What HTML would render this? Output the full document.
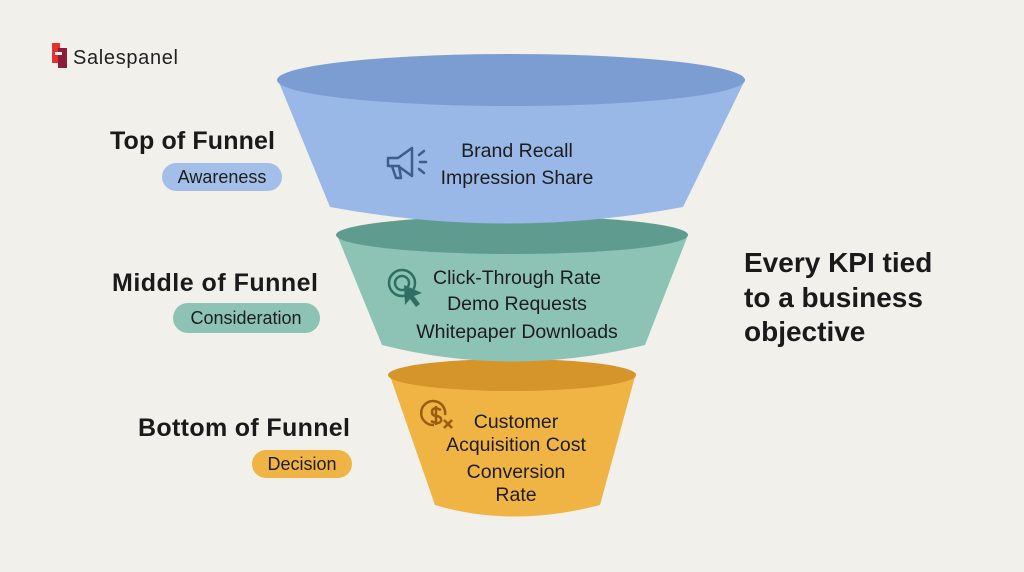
<!DOCTYPE html>
<html><head><meta charset="utf-8"><style>
html,body{margin:0;padding:0;background:#f1f0eb;}
svg{display:block}
text{font-family:"Liberation Sans",sans-serif;}
</style></head><body>
<svg width="1024" height="572" viewBox="0 0 1024 572" xmlns="http://www.w3.org/2000/svg">
<rect width="1024" height="572" fill="#f1f0eb"/>
<!-- logo -->
<rect x="52" y="43" width="8" height="20" fill="#e5322d"/>
<rect x="58" y="48" width="9" height="20" fill="#8a1f3c"/>
<rect x="55" y="52" width="7" height="3" fill="#f1f0eb"/>
<text x="73" y="64" font-size="20" fill="#222" textLength="105">Salespanel</text>

<!-- bottom funnel -->
<path d="M389,373 L435,505 Q512,528 600,505 L636,373 Z" fill="#f0b444"/>
<ellipse cx="512" cy="375" rx="124" ry="16" fill="#d6952a"/>
<!-- middle funnel -->
<path d="M337,235 L382,345 Q512,378 645,345 L688,235 Z" fill="#8cc3b5"/>
<ellipse cx="512" cy="235" rx="176" ry="19" fill="#5f9c8f"/>
<!-- top funnel -->
<path d="M278,80 L330,207 Q507,240 683,207 L745,80 Z" fill="#99b7e7"/>
<ellipse cx="511" cy="80" rx="234" ry="26" fill="#7b9dd1"/>

<!-- texts in funnel -->
<g font-size="19.5" fill="#1d1d1d" text-anchor="middle">
<text x="517" y="157">Brand Recall</text>
<text x="517" y="184">Impression Share</text>
<text x="517" y="284">Click-Through Rate</text>
<text x="517" y="310">Demo Requests</text>
<text x="517" y="338">Whitepaper Downloads</text>
<text x="516" y="428">Customer</text>
<text x="516" y="451">Acquisition Cost</text>
<text x="516" y="478">Conversion</text>
<text x="516" y="501">Rate</text>
</g>
<!-- icons -->
<g fill="none" stroke="#3b5f8a" stroke-width="2.5" stroke-linecap="round" stroke-linejoin="round">
<path d="M388,158 L398,158 L412,148 L412,176 L398,166 L388,166 Z"/>
<path d="M392,166 L396,178 L401,178 L399,166"/>
<path d="M419,155 L424,151 M420,162 L426,162 M419,169 L424,173"/>
</g>
<g fill="none" stroke="#2f6f63" stroke-width="2.5">
<circle cx="402" cy="283" r="13"/><circle cx="402" cy="283" r="7"/>
</g>
<path d="M404,285 L422,293 L414,296 L420,304 L416,307 L410,299 L405,305 Z" fill="#2f6f63"/>
<g fill="none" stroke="#9a5d10" stroke-width="2.5">
<path d="M445,415 A12,12 0 1 0 434,425"/>
<path d="M441,410 Q432,406 432,412 Q432,416 437,416 Q442,417 441,421 Q439,425 431,421 M436,406 V425"/>
<path d="M444,420 L452,428 M452,420 L444,428"/>
</g>

<!-- left labels -->
<g font-size="25" font-weight="bold" fill="#1a1a1a" text-anchor="end">
<text x="275" y="149" textLength="165">Top of Funnel</text>
<text x="318" y="291" textLength="206">Middle of Funnel</text>
<text x="350" y="436" textLength="212">Bottom of Funnel</text>
</g>
<rect x="162" y="163" width="120" height="28" rx="14" fill="#a3bfe9"/>
<rect x="173" y="303" width="147" height="30" rx="15" fill="#8cc3b5"/>
<rect x="252" y="450" width="100" height="28" rx="14" fill="#f0b444"/>
<g font-size="18" fill="#1d1d1d" text-anchor="middle">
<text x="222" y="183">Awareness</text>
<text x="246" y="324">Consideration</text>
<text x="302" y="470">Decision</text>
</g>

<!-- right text -->
<g font-size="28" font-weight="bold" fill="#1a1a1a">
<text x="744" y="272">Every KPI tied</text>
<text x="744" y="307">to a business</text>
<text x="744" y="341">objective</text>
</g>
</svg>
</body></html>
